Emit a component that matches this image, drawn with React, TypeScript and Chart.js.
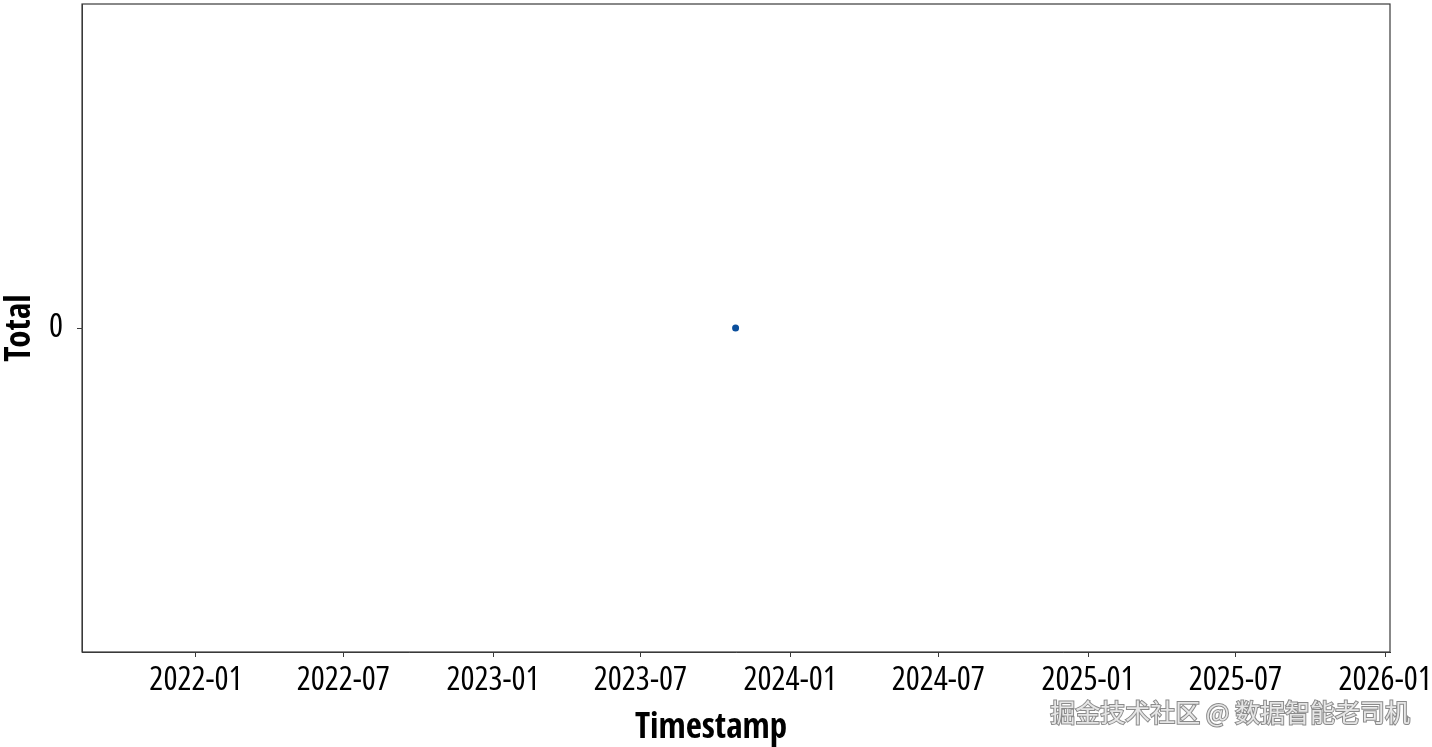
import React, { useEffect, useRef } from "react";
import { Chart, registerables } from "chart.js";

Chart.register(...registerables);

// ---- data ----
const timestamps: string[] = ["2023-10-26"];
const totals: number[] = [0];
const xTickLabels: string[] = [
  "2022-01", "2022-07", "2023-01", "2023-07", "2024-01",
  "2024-07", "2025-01", "2025-07", "2026-01",
];
const yTickValues: number[] = [0];
const xRange: string[] = ["2021-08-14", "2026-01-07"];
const xTitle = "Timestamp";
const yTitle = "Total";
const watermark = "掘金技术社区 @ 数据智能老司机";

const toMs = (s: string) => {
  const [y, m, d] = s.split("-").map(Number);
  return Date.UTC(y, (m || 1) - 1, d || 1);
};
const fmt = (v: number) => {
  const d = new Date(v);
  return `${d.getUTCFullYear()}-${String(d.getUTCMonth() + 1).padStart(2, "0")}`;
};

const FAMILY = '"Open Sans", "Roboto Condensed", sans-serif';
const TITLE_FAMILY = '"Open Sans Condensed", "Roboto Condensed", sans-serif';

const zeroPad = (s: any) => {
  s.paddingTop = 0;
  s.paddingBottom = 0;
  s.paddingLeft = 0;
  s.paddingRight = 0;
};

export default function App() {
  const ref = useRef<HTMLCanvasElement | null>(null);
  useEffect(() => {
    document.body.style.margin = "0";
    if (!ref.current) return;
    const framePlugin = {
      id: "frame",
      afterDraw(chart: any) {
        const { ctx, chartArea: a } = chart;
        ctx.save();
        ctx.strokeStyle = "#3a3a3a";
        ctx.lineWidth = 1.2;
        ctx.strokeRect(a.left, a.top, a.right - a.left, a.bottom - a.top);
        // x-axis title (offset left as in the reference)
        ctx.font = `bold 35px ${TITLE_FAMILY}`;
        ctx.fillStyle = "#000";
        ctx.textAlign = "center";
        ctx.textBaseline = "alphabetic";
        ctx.fillText(xTitle, (a.left + a.right) / 2 - 25, 738);
        // watermark
        ctx.font = '25px "Noto Sans CJK SC", sans-serif';
        ctx.textAlign = "right";
        ctx.textBaseline = "middle";
        ctx.lineWidth = 2;
        ctx.strokeStyle = "#8a8a8a";
        ctx.strokeText(watermark, 1410, 712);
        ctx.fillStyle = "#e6e6e6";
        ctx.fillText(watermark, 1410, 712);
        ctx.restore();
      },
    };
    const chart = new Chart(ref.current, {
      type: "scatter",
      data: {
        datasets: [
          {
            data: timestamps.map((t, i) => ({ x: toMs(t), y: totals[i] })),
            backgroundColor: "#0b4f9c",
            borderColor: "#0b4f9c",
            pointRadius: 3.5,
            borderWidth: 0,
          },
        ],
      },
      options: {
        responsive: false,
        animation: false,
        devicePixelRatio: 1,
        layout: { padding: { top: 2, right: 42, left: 0, bottom: 0 } },
        plugins: { legend: { display: false }, tooltip: { enabled: false } },
        scales: {
          x: {
            type: "linear",
            min: toMs(xRange[0]),
            max: toMs(xRange[1]),
            afterBuildTicks: (s: any) => {
              s.ticks = xTickLabels.map((l) => ({ value: toMs(l) }));
            },
            afterFit: (s: any) => {
              s.height = 95;
              zeroPad(s);
            },
            grid: {
              drawOnChartArea: false,
              drawTicks: true,
              tickLength: 5,
              color: "#3a3a3a",
            },
            border: { display: true, color: "#3a3a3a" },
            ticks: {
              autoSkip: false,
              maxRotation: 0,
              padding: 4,
              color: "#000",
              font: { family: FAMILY, size: 33, weight: "500 condensed" as any },
              callback: (v: any) => fmt(Number(v)),
            },
            title: { display: false },
          },
          y: {
            type: "linear",
            min: -1,
            max: 1,
            afterBuildTicks: (s: any) => {
              s.ticks = yTickValues.map((v) => ({ value: v }));
            },
            afterFit: (s: any) => {
              s.width = 82;
              zeroPad(s);
            },
            grid: {
              drawOnChartArea: false,
              drawTicks: true,
              tickLength: 5,
              color: "#3a3a3a",
            },
            border: { display: true, color: "#3a3a3a" },
            ticks: {
              padding: 14,
              color: "#000",
              font: { family: FAMILY, size: 33, weight: "500 condensed" as any },
            },
            title: {
              display: true,
              text: yTitle,
              color: "#000",
              font: { family: TITLE_FAMILY, size: 35, weight: "bold" },
              padding: { top: 0, bottom: 0 },
            },
          },
        },
      },
      plugins: [framePlugin],
    });
    return () => chart.destroy();
  }, []);
  return <canvas ref={ref} width={1432} height={747} />;
}
